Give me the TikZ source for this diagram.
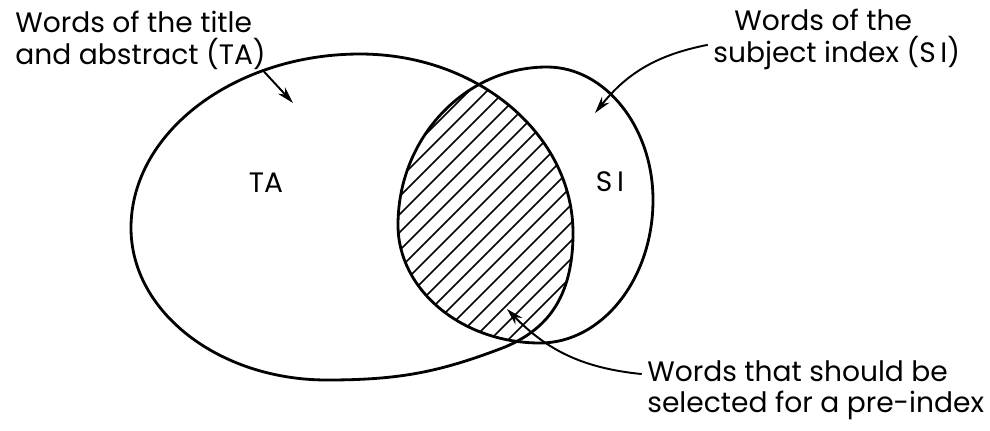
\documentclass[tikz,border=0pt]{standalone}
\usepackage{fontspec}
\setmainfont{Poppins}
\usepackage{tikz}
\usetikzlibrary{arrows.meta,calc}
\newcommand{\taoutline}{(131,228) .. controls (131,132) and (235,54) .. (360,54)
  .. controls (478,54) and (573,135) .. (573,233)
  .. controls (573,300) and (545,330) .. (505,347)
  .. controls (440,372) and (400,380) .. (327,380)
  .. controls (219,380) and (131,312) .. (131,228) -- cycle}
\newcommand{\sioutline}{(547,67) .. controls (605,67) and (653,127) .. (653,200)
  .. controls (653,279) and (602,343) .. (540,343)
  .. controls (462,343) and (398,290) .. (398,225)
  .. controls (398,138) and (465,67) .. (547,67) -- cycle}
\tikzset{
  outline/.style = {line width=1.6pt, line join=round},
  hatch/.style   = {line width=0.9pt},
  ar/.style      = {-{Stealth[length=3.4mm, width=1.9mm]}, line width=1.1pt},
  lbl/.style     = {font=\fontsize{16}{18}\selectfont, align=left, inner sep=0pt},
}
\begin{document}
\begin{tikzpicture}[x=0.02cm, y=-0.02cm]
  \useasboundingbox (0,0) rectangle (990,430);
  % overlap of the two sets
  \begin{scope}
    \clip \sioutline;
    \clip \taoutline;
    \foreach \k in {560,578,...,900}
      \draw[hatch] ({\k-400},400) -- (\k,0);
  \end{scope}
  \draw[outline] \taoutline;
  \draw[outline] \sioutline;
  % labels
  \node[lbl, anchor=north west] (talabel) at (15,11) {Words of the title\\and abstract (TA)};
  \node[lbl, anchor=north west] (silabel) at (713,9) {\hspace*{12pt}Words of the\\subject index (S\,I)};
  \node[lbl, anchor=north west] (prelabel) at (647,360) {Words that should be\\selected for a pre-index};
  \node[lbl] (ta) at (266,183) {TA};
  \node[lbl] (si) at (610,182) {S\,I};
  % arrows
  \coordinate (tatip) at (293,103);
  \coordinate (sitip) at (595,113);
  \coordinate (pretip) at (507,309);
  \draw[ar] ([xshift=-2pt]talabel.south east) -- (tatip);
  \draw[ar] ([xshift=-3pt,yshift=-3pt]silabel.west) to[bend right=20] (sitip);
  \draw[ar] ([xshift=-3pt,yshift=-8pt]prelabel.north west) to[bend left=20] (pretip);
\end{tikzpicture}
\end{document}
